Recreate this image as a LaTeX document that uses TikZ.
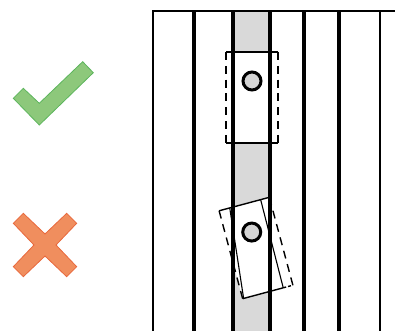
\documentclass[tikz,border=0pt]{standalone}
\usetikzlibrary{arrows.meta,positioning}
\definecolor{okFill}{RGB}{141,200,123}
\definecolor{okLine}{RGB}{92,181,92}
\definecolor{badFill}{RGB}{240,142,94}
\definecolor{badLine}{RGB}{232,104,60}
\definecolor{strip}{RGB}{217,217,217}

\begin{document}
\begin{tikzpicture}[x=1pt,y=-1pt,rail/.style={line width=3.6pt},frame/.style={line width=1.6pt},edge/.style={line width=1.4pt},inner/.style={line width=1.1pt},side/.style={line width=1.4pt,dash pattern=on 8pt off 5.83pt},knob/.style={line width=3pt,fill=black!17},ok/.style={fill=okFill,draw=okLine,line width=0.8pt},bad/.style={fill=badFill,draw=badLine,line width=0.8pt}]
\useasboundingbox (0,0) rectangle (395,331);
\fill[strip] (235,11) rectangle (268,331);
\begin{scope}[shift={(252,97.5)}]
\coordinate (upperTL) at (-26,-45.5);
\coordinate (upperTR) at (26,-45.5);
\coordinate (upperBR) at (26,45.5);
\coordinate (upperBL) at (-26,45.5);
\coordinate (upperKnob) at (0,-16.5);
\end{scope}
\begin{scope}[shift={(256,248)},rotate=15]
\coordinate (lowerTL) at (-26,-45.5);
\coordinate (lowerTR) at (26,-45.5);
\coordinate (lowerBR) at (26,45.5);
\coordinate (lowerBL) at (-26,45.5);
\coordinate (innerLT) at (-15,-45.5);
\coordinate (innerLB) at (-25,45.5);
\coordinate (innerRT) at (17,-45.5);
\coordinate (innerRB) at (16,45.5);
\coordinate (lowerKnob) at (0,-16.5);
\end{scope}
\fill[white] (upperTL) -- (upperTR) -- (upperBR) -- (upperBL) -- cycle;
\fill[white] (lowerTL) -- (lowerTR) -- (lowerBR) -- (lowerBL) -- cycle;
\foreach \x in {194,233,270,304,339}
  \draw[rail] (\x,11) -- (\x,331);
\draw[frame] (395,11) -- (153,11) -- (153,331);
\draw[frame] (380,11) -- (380,331);
\draw[edge] (upperTL) -- (upperTR);
\draw[edge] (upperBL) -- (upperBR);
\draw[side] (upperTL) -- (upperBL);
\draw[side] (upperTR) -- (upperBR);
\draw[knob] (upperKnob) circle (9);
\draw[edge] (lowerTL) -- (lowerTR);
\draw[edge] (lowerBL) -- (innerRB);
\draw[edge,dash pattern=on 3pt off 2pt] (innerRB) -- (lowerBR);
\draw[side] (lowerTL) -- (lowerBL);
\draw[side] (lowerTR) -- (lowerBR);
\draw[inner] (innerLT) -- (innerLB);
\draw[inner] (innerRT) -- (innerRB);
\draw[knob] (lowerKnob) circle (9);
\draw[ok] (23.3,88.3) -- (39.3,103.3) -- (82.7,61.7) -- (93.3,72.7) -- (39.3,125) -- (13.3,98.3) -- cycle;
\draw[bad] (23.3,213.3) -- (45,234) -- (66.7,213.3) -- (76.7,223.3) -- (56,245) -- (76.7,266.7) -- (66.7,276.7) -- (45,256) -- (23.3,276.7) -- (13.3,266.7) -- (34,245) -- (13.3,223.3) -- cycle;
\end{tikzpicture}
\end{document}
